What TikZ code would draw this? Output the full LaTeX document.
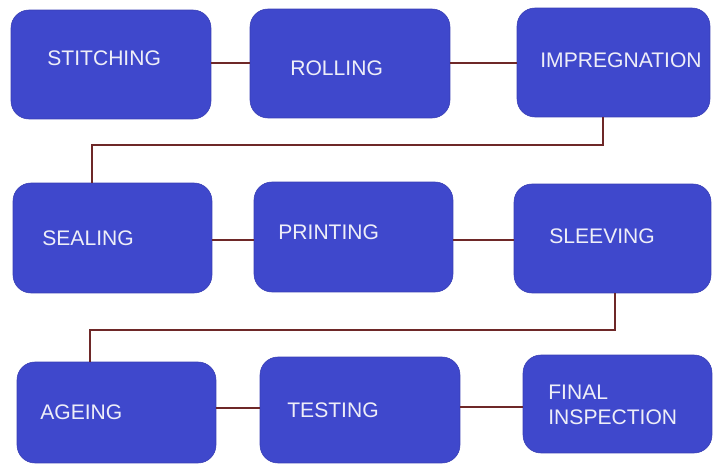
\documentclass[tikz,border=0pt]{standalone}
\usepackage{fontspec}
\setmainfont{Liberation Sans}
\usepackage{tikz}
\usetikzlibrary{calc}
\usetikzlibrary{positioning}

\definecolor{r63g72b204}{rgb}{0.247059,0.282353,0.800000}
\definecolor{r56g62b180}{rgb}{0.219608,0.243137,0.705882}
\definecolor{r110g40b40}{rgb}{0.431373,0.156863,0.156863}
\definecolor{r238g238b248}{rgb}{0.933333,0.933333,0.972549}

\tikzset{
  stepbox/.style={draw=r56g62b180, line width=0.012cm, fill=r63g72b204,
    rounded corners=0.36cm, inner sep=0pt},
  steptext/.style={anchor=west, inner sep=0pt, text=r238g238b248,
    font=\fontsize{12}{14.2}\selectfont, align=left},
  link/.style={draw=r110g40b40, line width=0.03cm}
}

\begin{document}
\begin{tikzpicture}[x=0.02cm, y=-0.02cm]
                        \useasboundingbox (0,0) rectangle (713,465);
                        {\footnotesize

                        % Boxes of row 1
                        \node [stepbox, minimum width=4.00cm, minimum height=2.18cm] (stitch) at (111.0,64.5) {};%
                        \node [stepbox, minimum width=4.00cm, minimum height=2.18cm] (roll) at (350.0,63.5) {};%
                        \node [stepbox, minimum width=3.86cm, minimum height=2.18cm] (impreg) at (613.5,62.5) {};%

                        % Boxes of row 2
                        \node [stepbox, minimum width=3.98cm, minimum height=2.20cm] (seal) at (112.5,238.0) {};%
                        \node [stepbox, minimum width=3.98cm, minimum height=2.20cm] (print) at (353.5,237.0) {};%
                        \node [stepbox, minimum width=3.94cm, minimum height=2.18cm] (sleeve) at (612.5,238.5) {};%

                        % Boxes of row 3
                        \node [stepbox, minimum width=3.98cm, minimum height=2.02cm] (ageing) at (116.5,412.5) {};%
                        \node [stepbox, minimum width=4.00cm, minimum height=2.12cm] (test) at (360.0,410.0) {};%
                        \node [stepbox, minimum width=3.78cm, minimum height=1.96cm] (final) at (617.5,404.0) {};%

                        % Texts of the boxes
                        \node [steptext] (stitchtext) at (47,58) {STITCHING};%
                        \node [steptext] (rolltext) at (290,68) {ROLLING};%
                        \node [steptext] (impregtext) at (540,60) {IMPREGNATION};%
                        \node [steptext] (sealtext) at (42,238) {SEALING};%
                        \node [steptext] (printtext) at (278,232) {PRINTING};%
                        \node [steptext] (sleevetext) at (549,236) {SLEEVING};%
                        \node [steptext] (ageingtext) at (40,412) {AGEING};%
                        \node [steptext] (testtext) at (287,410) {TESTING};%
                        \node [steptext] (finaltext) at (548,404.5) {FINAL\\INSPECTION};%

                        % Bends of the long links
                        \coordinate (bendA) at (603,145);%
                        \coordinate (bendB) at (92,145);%
                        \coordinate (bendC) at (615,330);%
                        \coordinate (bendD) at (90,330);%

                        % Drawing links of row 1
                        \draw [link] (stitch.east |- 0,63) -- (roll.west |- 0,63);%
                        \draw [link] (roll.east |- 0,63) -- (impreg.west |- 0,63);%

                        % Drawing link row 1 to row 2
                        \draw [link] (bendA |- impreg.south) -- (bendA) -- (bendB) -- (bendB |- seal.north);%

                        % Drawing links of row 2
                        \draw [link] (seal.east |- 0,240) -- (print.west |- 0,240);%
                        \draw [link] (print.east |- 0,240) -- (sleeve.west |- 0,240);%

                        % Drawing link row 2 to row 3
                        \draw [link] (bendC |- sleeve.south) -- (bendC) -- (bendD) -- (bendD |- ageing.north);%

                        % Drawing links of row 3
                        \draw [link] (ageing.east |- 0,408) -- (test.west |- 0,408);%
                        \draw [link] (test.east |- 0,407) -- (final.west |- 0,407);%
                        }
\end{tikzpicture}
\end{document}
